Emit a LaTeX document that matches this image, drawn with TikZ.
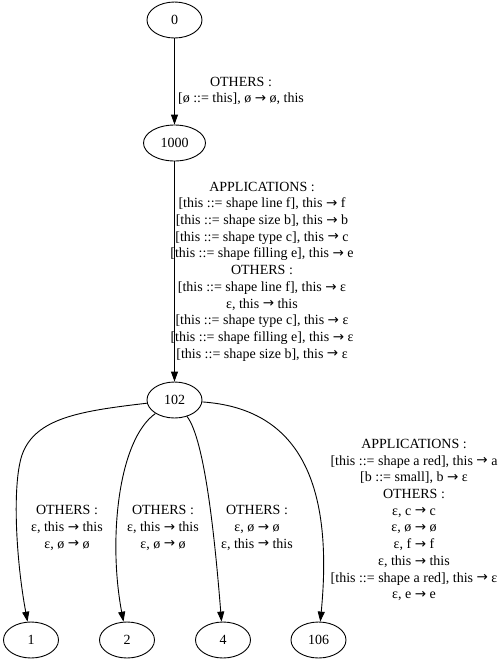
\documentclass[tikz,border=0pt]{standalone}
\usepackage{fontspec}
\setmainfont{Liberation Serif}
\newfontfamily\arrfont{DejaVu Sans}
\newcommand{\ra}{\raisebox{0.3pt}{\arrfont\fontsize{13.5}{13.5}\selectfont →}}
\usetikzlibrary{arrows.meta,shapes.geometric}
\begin{document}
\begin{tikzpicture}[x=1pt,y=-1pt,
  state/.style={draw,ellipse,line width=0.9pt,minimum width=#1,minimum height=36pt,inner sep=0pt,font=\fontsize{14}{16.8}\selectfont},
  state/.default=55pt,
  lab/.style={align=center,inner sep=0pt,font=\fontsize{14}{16.7}\selectfont},
  edge/.style={draw,line width=0.9pt,-{Triangle[length=10pt,width=7pt]}}]
\useasboundingbox (0,0) rectangle (502,662);
\node[state] (n0) at (174.5,20) {0};
\node[state=62pt] (n1000) at (174.5,143) {1000};
\node[state] (n102) at (174.5,400) {102};
\node[state] (n1) at (31,640) {1};
\node[state] (n2) at (127,640) {2};
\node[state] (n4) at (223,640) {4};
\node[state] (n106) at (318.5,640) {106};

\node[lab] (l1) at (241,91) {OTHERS :\\{}[ø ::= this], ø \ra{} ø, this};
\node[lab] (l2) at (262,271.5) {APPLICATIONS :\\{}[this ::= shape line f], this \ra{} f\\{}[this ::= shape size b], this \ra{} b\\{}[this ::= shape type c], this \ra{} c\\{}[this ::= shape filling e], this \ra{} e\\OTHERS :\\{}[this ::= shape line f], this \ra{} ε\\ε, this \ra{} this\\{}[this ::= shape type c], this \ra{} ε\\{}[this ::= shape filling e], this \ra{} ε\\{}[this ::= shape size b], this \ra{} ε};
\node[lab] (l3) at (67,528) {OTHERS :\\ε, this \ra{} this\\ε, ø \ra{} ø};
\node[lab] (l4) at (163,528) {OTHERS :\\ε, this \ra{} this\\ε, ø \ra{} ø};
\node[lab] (l5) at (257,528) {OTHERS :\\ε, ø \ra{} ø\\ε, this \ra{} this};
\node[lab] (l6) at (414,520) {APPLICATIONS :\\{}[this ::= shape a red], this \ra{} a\\{}[b ::= small], b \ra{} ε\\OTHERS :\\ε, c \ra{} c\\ε, ø \ra{} ø\\ε, f \ra{} f\\ε, this \ra{} this\\{}[this ::= shape a red], this \ra{} ε\\ε, e \ra{} e};

\path[edge] (n0) -- (n1000);
\path[edge] (n1000) -- (n102);
\path[edge] (n102) .. controls (80,411) and (35,418) .. (22,455) .. controls (12,485) and (16,560) .. (n1);
\path[edge] (n102) .. controls (118,440) and (108,540) .. (n2);
\path[edge] (n102) .. controls (205,440) and (215,540) .. (n4);
\path[edge] (n102) .. controls (290,408) and (335,470) .. (n106);
\end{tikzpicture}
\end{document}
